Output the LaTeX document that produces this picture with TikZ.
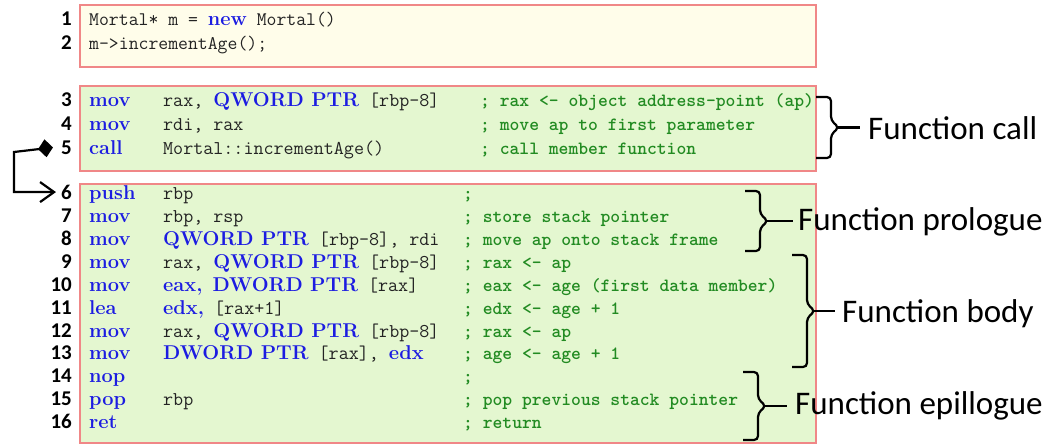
\documentclass[tikz,border=0pt]{standalone}
\usepackage{fontspec}
\newfontfamily\labelfont{Carlito}
\usetikzlibrary{arrows.meta}
\definecolor{kwblue}{RGB}{28,28,225}
\definecolor{cmtgreen}{RGB}{34,139,34}
\definecolor{codeink}{RGB}{35,35,35}
\definecolor{boxedge}{RGB}{240,135,135}
\definecolor{srcfill}{RGB}{255,253,234}
\definecolor{asmfill}{RGB}{228,247,208}
% keywords: blue bold roman inside typewriter text
\newcommand{\kw}[1]{{\rmfamily\bfseries\fontsize{20}{20}\selectfont\color{kwblue}#1}}
% right-hand curly bracket: x, top, bottom, name of its tip
\newcommand{\sidebrace}[4]{%
  \draw[brc] (#1,#2) -- ++(15,0) -- ({#1+15},{(#2+#3)/2-7}) -- ({#1+23},{(#2+#3)/2})
    -- ({#1+15},{(#2+#3)/2+7}) -- ({#1+15},#3) -- (#1,#3);
  \coordinate (#4) at ({#1+21},{(#2+#3)/2});}
\begin{document}
\begin{tikzpicture}[x=1pt,y=-1pt,
  codebox/.style={draw=boxedge,line width=1.6pt},
  lno/.style={anchor=mid east,inner sep=0pt,font=\labelfont\bfseries\fontsize{21}{21}\selectfont},
  op/.style={anchor=mid west,inner sep=0pt,text=kwblue,font=\rmfamily\bfseries\fontsize{20}{20}\selectfont},
  arg/.style={anchor=mid west,inner sep=0pt,text=codeink,font=\ttfamily\fontsize{19.5}{20}\selectfont},
  src/.style={arg,font=\ttfamily\fontsize{19.2}{20}\selectfont},
  cmt/.style={anchor=mid west,inner sep=0pt,text=cmtgreen,font=\ttfamily\bfseries\fontsize{18.7}{20}\selectfont},
  part/.style={anchor=base west,inner sep=0pt,font=\labelfont\fontsize{33}{33}\selectfont},
  brc/.style={line width=2.2pt,rounded corners=4pt},
  tie/.style={line width=2.2pt},
  jump/.style={line width=2.2pt,{Diamond[length=15pt,width=18pt]}-{Straight Barb[length=14pt,width=20pt]}}
]
\useasboundingbox (0,0) rectangle (1053,445);

% the three code boxes
\draw[codebox,fill=srcfill] (80,5) rectangle (816,67);
\draw[codebox,fill=asmfill] (80,86) rectangle (816,171);
\draw[codebox,fill=asmfill] (80,184) rectangle (816,443);

% C++ source
\node[lno] (n1) at (72,23) {1};
\node[src] (s1) at (89,23) {Mortal* m = \kw{new} Mortal()};
\node[lno] (n2) at (72,47) {2};
\node[src] (s2) at (89,47) {m->incrementAge();};

% call site
\node[lno] (n3) at (72,104) {3};
\node[op]  (o3) at (89,104) {mov};
\node[arg] (a3) at (163,104) {rax, \kw{QWORD PTR} [rbp-8]};
\node[cmt] (c3) at (480,104) {; rax <- object address-point (ap)};
\node[lno] (n4) at (72,128) {4};
\node[op]  (o4) at (89,128) {mov};
\node[arg] (a4) at (163,128) {rdi, rax};
\node[cmt] (c4) at (480,128) {; move ap to first parameter};
\node[lno] (n5) at (72,152) {5};
\node[op]  (o5) at (89,152) {call};
\node[arg] (a5) at (163,152) {Mortal::incrementAge()};
\node[cmt] (c5) at (480,152) {; call member function};

% member function
\node[lno] (n6) at (72,197) {6};
\node[op]  (o6) at (89,197) {push};
\node[arg] (a6) at (163,197) {rbp};
\node[cmt] (c6) at (463,197) {;};
\node[lno] (n7) at (72,220) {7};
\node[op]  (o7) at (89,220) {mov};
\node[arg] (a7) at (163,220) {rbp, rsp};
\node[cmt] (c7) at (463,220) {; store stack pointer};
\node[lno] (n8) at (72,243) {8};
\node[op]  (o8) at (89,243) {mov};
\node[arg] (a8) at (163,243) {\kw{QWORD PTR} [rbp-8], rdi};
\node[cmt] (c8) at (463,243) {; move ap onto stack frame};
\node[lno] (n9) at (72,266) {9};
\node[op]  (o9) at (89,266) {mov};
\node[arg] (a9) at (163,266) {rax, \kw{QWORD PTR} [rbp-8]};
\node[cmt] (c9) at (463,266) {; rax <- ap};
\node[lno] (n10) at (72,289) {10};
\node[op]  (o10) at (89,289) {mov};
\node[arg] (a10) at (163,289) {\kw{eax,} \kw{DWORD PTR} [rax]};
\node[cmt] (c10) at (463,289) {; eax <- age (first data member)};
\node[lno] (n11) at (72,312) {11};
\node[op]  (o11) at (89,312) {lea};
\node[arg] (a11) at (163,312) {\kw{edx,} [rax+1]};
\node[cmt] (c11) at (463,312) {; edx <- age + 1};
\node[lno] (n12) at (72,335) {12};
\node[op]  (o12) at (89,335) {mov};
\node[arg] (a12) at (163,335) {rax, \kw{QWORD PTR} [rbp-8]};
\node[cmt] (c12) at (463,335) {; rax <- ap};
\node[lno] (n13) at (72,357) {13};
\node[op]  (o13) at (89,357) {mov};
\node[arg] (a13) at (163,357) {\kw{DWORD PTR} [rax], \kw{edx}};
\node[cmt] (c13) at (463,357) {; age <- age + 1};
\node[lno] (n14) at (72,380) {14};
\node[op]  (o14) at (89,380) {nop};
\node[cmt] (c14) at (463,380) {;};
\node[lno] (n15) at (72,403) {15};
\node[op]  (o15) at (89,403) {pop};
\node[arg] (a15) at (163,403) {rbp};
\node[cmt] (c15) at (463,403) {; pop previous stack pointer};
\node[lno] (n16) at (72,426) {16};
\node[op]  (o16) at (89,426) {ret};
\node[cmt] (c16) at (463,426) {; return};

% jump from the call to the first instruction of the callee
\coordinate (jfrom) at ([xshift=-8pt]n5.west);
\coordinate (jto) at ([xshift=-5pt]n6.west);
\draw[jump] (jfrom) -- (14,152) |- (jto);

% section labels with brackets
\node[part] (lcall) at (868,139) {Function call};
\node[part] (lpro)  at (798,230) {Function prologue};
\node[part] (lbody) at (842,322) {Function body};
\node[part] (lepi)  at (795,414) {Function epillogue};

\sidebrace{816}{97}{158}{tcall}
\draw[tie,shorten >=8pt] (tcall) -- (tcall -| lcall.west);

\sidebrace{745}{191}{251}{tpro}
\draw[tie,shorten >=5pt] (tpro) -- (tpro -| lpro.west);

\sidebrace{792}{255}{367}{tbody}
\draw[tie,shorten >=7pt] (tbody) -- (tbody -| lbody.west);

\sidebrace{743}{372}{440}{tepi}
\draw[tie,shorten >=8pt] (tepi) -- (tepi -| lepi.west);
\end{tikzpicture}
\end{document}
